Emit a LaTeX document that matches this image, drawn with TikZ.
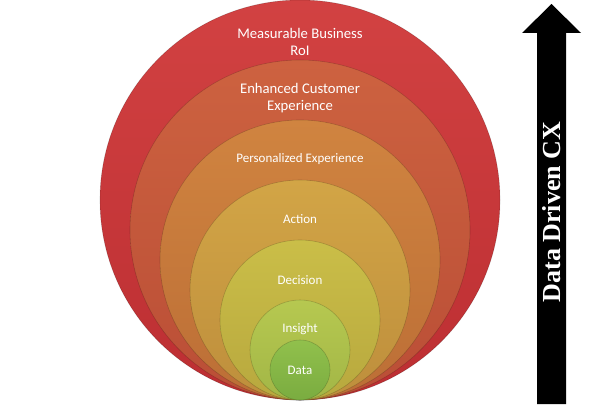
\documentclass[tikz,border=0pt]{standalone}
\usepackage{fontspec}
\setmainfont{Carlito}
\newfontfamily\arrowfont{Liberation Serif}
\definecolor{cA1}{RGB}{210,66,66}\definecolor{cA2}{RGB}{188,46,50}
\definecolor{cB1}{RGB}{205,98,64}\definecolor{cB2}{RGB}{186,78,54}
\definecolor{cC1}{RGB}{208,132,64}\definecolor{cC2}{RGB}{188,110,54}
\definecolor{cD1}{RGB}{210,165,70}\definecolor{cD2}{RGB}{190,142,60}
\definecolor{cE1}{RGB}{202,190,72}\definecolor{cE2}{RGB}{184,168,62}
\definecolor{cF1}{RGB}{182,200,80}\definecolor{cF2}{RGB}{162,182,70}
\definecolor{cG1}{RGB}{145,192,76}\definecolor{cG2}{RGB}{122,172,64}
\tikzset{
  ring/.style={draw=black, draw opacity=0.18, line width=0.6pt},
  biglabel/.style={text=white, font=\fontsize{14.7}{17}\selectfont, align=center, inner sep=0pt},
  smalllabel/.style={text=white, font=\fontsize{13}{15}\selectfont, inner sep=0pt, anchor=base},
  arrowlabel/.style={text=white, font=\arrowfont\bfseries\fontsize{26}{30}\selectfont, rotate=90, inner sep=0pt}
}
\begin{document}
\begin{tikzpicture}[x=1pt,y=1pt]
\useasboundingbox (0,0) rectangle (600,-406);
% rings, all tangent at the bottom point (300,-400)
\foreach \r/\ca/\cb in {200/cA1/cA2,170/cB1/cB2,140/cC1/cC2,110/cD1/cD2,80/cE1/cE2,50/cF1/cF2,30/cG1/cG2}{
  \shade[ring, top color=\ca, bottom color=\cb] (300,-400+\r) circle[radius=\r];
}
% labels
\node[biglabel] (roi) at (300,-41.5) {Measurable Business\\RoI};
\node[biglabel] (cust) at (300,-98.5) {Enhanced Customer\\Experience};
\node[smalllabel] (pers) at (300,-163) {Personalized Experience};
\node[smalllabel] (act) at (300,-224) {Action};
\node[smalllabel] (dec) at (300,-285) {Decision};
\node[smalllabel] (ins) at (300,-332) {Insight};
\node[smalllabel] (dat) at (300,-374) {Data};
% arrow
\fill[black] (537,-404) -- (537,-33) -- (522,-33) -- (551.5,-4) -- (581,-33) -- (566,-33) -- (566,-404) -- cycle;
\node[arrowlabel] (cx) at (551.5,-212) {Data Driven CX};
\end{tikzpicture}
\end{document}
